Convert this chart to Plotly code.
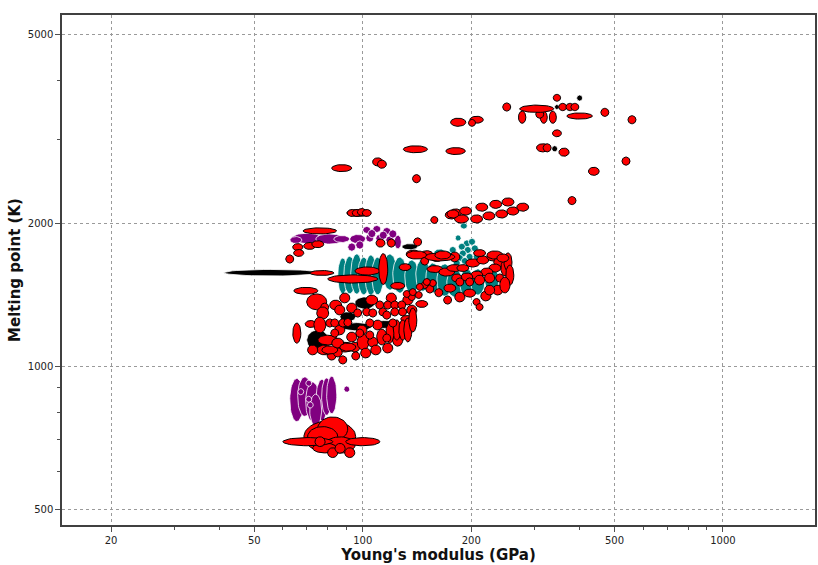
import numpy as np
import plotly.graph_objects as go

# Each material: (Young's modulus GPa, melting point K, modulus spread factor, melting-point spread factor)
teal_materials = [
    (88, 1547, 1.033, 1.091), (92, 1554, 1.039, 1.095), (96.2, 1562, 1.039, 1.102),
    (100.6, 1547, 1.039, 1.095), (105.3, 1554, 1.039, 1.102), (110, 1547, 1.039, 1.095),
    (118.9, 1577, 1.046, 1.091), (126.7, 1554, 1.046, 1.091), (136.8, 1539, 1.046, 1.086),
    (146.8, 1554, 1.046, 1.081), (156.5, 1532, 1.046, 1.075), (169, 1517, 1.052, 1.081),
    (180, 1495, 1.052, 1.070), (194.5, 1495, 1.046, 1.070), (208.6, 1503, 1.046, 1.065),
    (228, 1517, 1.046, 1.060), (171, 1713, 1.039, 1.020), (163.6, 1729, 1.039, 1.020),
    (190.8, 1972, 1.023, 1.015), (194.5, 1812, 1.023, 1.017), (201, 1826, 1.023, 1.017),
    (188.4, 1783, 1.023, 1.017), (195.7, 1755, 1.023, 1.017), (204.7, 1769, 1.023, 1.017),
    (189.6, 1726, 1.023, 1.017), (198, 1698, 1.023, 1.017), (207.3, 1698, 1.023, 1.017),
    (186, 1688, 1.023, 1.017), (192, 1664, 1.023, 1.017), (182.4, 1648, 1.023, 1.017),
    (184, 1860, 1.019, 1.015), (177.8, 1755, 1.023, 1.017),
]

purple_materials = [
    (65.6, 848, 1.046, 1.110), (69, 862, 1.046, 1.100), (72.6, 841, 1.046, 1.100),
    (77, 848, 1.039, 1.105), (79.4, 862, 1.033, 1.095), (82, 869, 1.033, 1.095),
    (74, 808, 1.039, 1.080), (90.3, 894, 1.019, 1.015), (67.3, 883, 1.019, 1.015),
    (70.8, 920, 1.019, 1.015), (70.8, 851, 1.019, 1.015), (71.5, 828, 1.019, 1.015),
    (75.5, 1851, 1.189, 1.017), (69.9, 1857, 1.101, 1.025), (81, 1851, 1.094, 1.025),
    (87.4, 1851, 1.052, 1.017), (65.2, 1842, 1.039, 1.017), (96.8, 1851, 1.052, 1.022),
    (102.6, 1934, 1.026, 1.017), (109.4, 1943, 1.026, 1.017), (116.6, 1924, 1.026, 1.017),
    (104.6, 1860, 1.026, 1.020), (111.5, 1857, 1.026, 1.020), (118.9, 1842, 1.026, 1.020),
    (125.1, 1824, 1.023, 1.034), (93.2, 1780, 1.026, 1.020), (98.1, 1798, 1.026, 1.020),
    (121.2, 1897, 1.026, 1.020), (106, 1900, 1.026, 1.020), (114, 1885, 1.026, 1.020),
]

black_materials = [
    (55.9, 1572, 1.359, 1.016), (135, 1783, 1.052, 1.015), (101.3, 1357, 1.066, 1.030),
    (90.9, 1270, 1.052, 1.024), (96.2, 1210, 1.101, 1.020), (116.6, 1223, 1.080, 1.020),
    (75, 1134, 1.073, 1.050), (346, 3510, 1.016, 1.012), (400, 3666, 1.019, 1.015),
    (341, 2867, 1.019, 1.015),
]

red_materials = [
    (346, 3670, 1.024, 1.017), (251, 3510, 1.026, 1.020), (277, 3340, 1.024, 1.030),
    (318, 3340, 1.023, 1.030), (337, 3340, 1.023, 1.030), (310, 3390, 1.026, 1.020),
    (304, 3480, 1.115, 1.018), (359, 3510, 1.026, 1.018), (376, 3510, 1.026, 1.018),
    (388, 3510, 1.026, 1.018), (400, 3360, 1.085, 1.015), (470, 3420, 1.026, 1.020),
    (559, 3300, 1.026, 1.020), (346, 3090, 1.029, 1.017), (316, 2880, 1.041, 1.020),
    (325, 2880, 1.026, 1.020), (362, 2820, 1.033, 1.020), (538, 2700, 1.026, 1.020),
    (438, 2570, 1.035, 1.020), (381, 2230, 1.026, 1.020), (184, 3260, 1.050, 1.020),
    (207, 3300, 1.044, 1.017), (201, 3250, 1.023, 1.017), (140, 2860, 1.080, 1.017),
    (181, 2835, 1.064, 1.017), (141, 2480, 1.026, 1.020), (87.4, 2610, 1.066, 1.017),
    (110, 2690, 1.033, 1.020), (113, 2660, 1.029, 1.020), (158, 2030, 1.023, 1.017),
    (97.5, 2100, 1.080, 1.017), (93.2, 2100, 1.029, 1.017), (96.2, 2100, 1.029, 1.017),
    (99.4, 2110, 1.029, 1.017), (102.6, 2100, 1.029, 1.017),
    (176, 2080, 1.039, 1.020), (181, 2100, 1.039, 1.020), (193, 2120, 1.039, 1.020),
    (188, 2040, 1.046, 1.020), (207, 2040, 1.039, 1.020), (214, 2160, 1.039, 1.020),
    (224, 2070, 1.039, 1.020), (234, 2190, 1.039, 1.020), (243, 2090, 1.039, 1.020),
    (253, 2215, 1.039, 1.020), (261, 2120, 1.039, 1.020), (278, 2160, 1.039, 1.020),
    (178, 2090, 1.039, 1.020),
    (76, 1925, 1.113, 1.015), (66, 1780, 1.033, 1.017), (66.4, 1730, 1.033, 1.017),
    (62.7, 1680, 1.026, 1.020), (71.2, 1790, 1.039, 1.017), (75, 1805, 1.039, 1.017),
    (112, 1815, 1.029, 1.020), (120, 1815, 1.026, 1.020), (138, 1720, 1.046, 1.020),
    (131, 1615, 1.039, 1.017), (142, 1825, 1.026, 1.020),
    (93.8, 1525, 1.173, 1.020), (103, 1585, 1.083, 1.020), (114, 1600, 1.029, 1.078),
    (77, 1570, 1.080, 1.012), (69.5, 1440, 1.080, 1.017), (125, 1475, 1.046, 1.017),
    (74.5, 1365, 1.066, 1.039), (78.4, 1330, 1.026, 1.020), (65.6, 1173, 1.026, 1.050),
    (71.7, 1226, 1.036, 1.017), (80, 1134, 1.066, 1.024), (89.1, 1096, 1.066, 1.024),
    (82, 1052, 1.029, 1.022), (85.2, 1068, 1.029, 1.022), (77.4, 1293, 1.039, 1.030),
    (84.1, 1344, 1.039, 1.024), (89.1, 1391, 1.033, 1.024), (93.2, 1325, 1.033, 1.024),
    (105.9, 1377, 1.039, 1.024), (120, 1391, 1.033, 1.024), (133.4, 1377, 1.033, 1.024),
    (136.8, 1312, 1.033, 1.024), (76, 1220, 1.039, 1.039), (78.4, 1081, 1.052, 1.024),
    (95, 1096, 1.033, 1.024), (99.4, 1191, 1.033, 1.024), (110, 1220, 1.033, 1.024),
    (125, 1134, 1.033, 1.030), (117.3, 1091, 1.033, 1.024), (86.3, 1191, 1.033, 1.024),
    (81, 1232, 1.026, 1.020), (83.6, 1232, 1.026, 1.020), (88, 1232, 1.026, 1.020),
    (90.9, 1235, 1.026, 1.020), (96.8, 1293, 1.026, 1.020), (102.6, 1300, 1.026, 1.020),
    (106.6, 1293, 1.026, 1.020), (111.5, 1344, 1.026, 1.020), (117.3, 1344, 1.026, 1.020),
    (122.7, 1344, 1.026, 1.020), (128.3, 1344, 1.026, 1.020), (113.7, 1300, 1.026, 1.020),
    (122.7, 1300, 1.026, 1.020), (129, 1300, 1.026, 1.020), (116.6, 1280, 1.026, 1.020),
    (132.5, 1256, 1.039, 1.017), (104.6, 1232, 1.026, 1.020), (124.3, 1191, 1.026, 1.050),
    (129.2, 1191, 1.026, 1.050), (133.4, 1191, 1.026, 1.060), (118.9, 1173, 1.026, 1.050),
    (112.9, 1151, 1.033, 1.039), (100.2, 1123, 1.039, 1.039), (106.6, 1123, 1.033, 1.024),
    (98.1, 1173, 1.026, 1.020), (104.6, 1162, 1.026, 1.020), (116.6, 1145, 1.026, 1.020),
    (81, 1081, 1.052, 1.020), (72.6, 1081, 1.033, 1.024), (85.2, 1118, 1.039, 1.024),
    (90.9, 1096, 1.052, 1.020), (95.6, 1050, 1.026, 1.020), (101.9, 1065, 1.033, 1.024),
    (108.7, 1081, 1.033, 1.024), (93.2, 1151, 1.033, 1.024), (121.2, 1232, 1.026, 1.020),
    (137.7, 1250, 1.026, 1.060), (86.3, 1312, 1.033, 1.024), (83.6, 1173, 1.026, 1.020),
    (88, 1030, 1.026, 1.020),
    (150.6, 1720, 1.039, 1.017), (160.5, 1688, 1.039, 1.017), (148.6, 1664, 1.026, 1.020),
    (158.5, 1600, 1.052, 1.017), (171, 1577, 1.052, 1.020), (180, 1608, 1.052, 1.017),
    (189.6, 1608, 1.039, 1.017), (202, 1648, 1.046, 1.020), (215.4, 1672, 1.039, 1.020),
    (229.7, 1697, 1.039, 1.020), (240, 1656, 1.039, 1.024), (248, 1608, 1.026, 1.039),
    (253, 1656, 1.026, 1.045), (237, 1445, 1.033, 1.024), (219.6, 1404, 1.033, 1.024),
    (186, 1397, 1.033, 1.024), (172, 1377, 1.026, 1.020), (180, 1697, 1.033, 1.024),
    (232.7, 1608, 1.039, 1.020), (221, 1577, 1.039, 1.020), (207.3, 1554, 1.039, 1.020),
    (194.5, 1539, 1.039, 1.020), (182.4, 1532, 1.033, 1.020), (211, 1517, 1.033, 1.024),
    (225, 1532, 1.033, 1.024), (240, 1532, 1.026, 1.020), (198, 1503, 1.026, 1.020),
    (198, 1424, 1.039, 1.020), (186, 1503, 1.026, 1.020), (162.6, 1427, 1.026, 1.020),
    (153.5, 1453, 1.026, 1.020), (148.6, 1481, 1.023, 1.017), (156.5, 1495, 1.023, 1.017),
    (143, 1411, 1.023, 1.017), (136.8, 1397, 1.023, 1.017), (132.5, 1418, 1.023, 1.017),
    (145.8, 1351, 1.039, 1.017), (207, 1364, 1.023, 1.017), (211, 1331, 1.023, 1.017),
    (137.7, 1431, 1.023, 1.017), (144, 1467, 1.023, 1.017), (150.6, 1503, 1.023, 1.017),
    (163.6, 1697, 1.101, 1.020), (141, 1713, 1.066, 1.020), (166.8, 1713, 1.052, 1.020),
    (211, 1729, 1.039, 1.017), (232.7, 1713, 1.052, 1.020), (244.8, 1688, 1.039, 1.020),
    (174.5, 1459, 1.039, 1.020), (256, 1554, 1.026, 1.050), (248, 1481, 1.033, 1.039),
    (225, 1445, 1.033, 1.024),
    (81, 710, 1.180, 1.080), (82.5, 737, 1.101, 1.060), (77.4, 710, 1.101, 1.050),
    (86.5, 682, 1.101, 1.040), (78.4, 672, 1.080, 1.024),
    (70.4, 693, 1.173, 1.020), (100, 693, 1.115, 1.020), (76.1, 693, 1.033, 1.024),
    (82.5, 657, 1.033, 1.024), (86.5, 671, 1.033, 1.024), (92, 657, 1.033, 1.024),
]

x_ticks = [20, 50, 100, 200, 500, 1000]
x_minor = [30, 40, 60, 70, 80, 90, 300, 400, 600, 700, 800, 900]
y_ticks = [500, 1000, 2000, 5000]
y_minor = [600, 700, 800, 900, 3000, 4000]

groups = [
    (teal_materials, "#008080", "white", 0.8),
    (purple_materials, "#800080", "white", 0.8),
    (black_materials, "#000000", "white", 0.8),
    (red_materials, "#ff0000", "#000000", 1.0),
]

t = np.linspace(0, 2 * np.pi, 48)
fig = go.Figure()
for mats, fill, edge, w in groups:
    for E, T, fE, fT in mats:
        lx = np.log10(E) + np.log10(fE) * np.cos(t)
        ly = np.log10(T) + np.log10(fT) * np.sin(t)
        fig.add_trace(go.Scatter(
            x=10 ** lx, y=10 ** ly, mode="lines", fill="toself",
            fillcolor=fill, line=dict(color=edge, width=w),
            hoverinfo="skip", showlegend=False))

font = "DejaVu Sans, Verdana, sans-serif"
axis_common = dict(
    type="log", showgrid=True, gridcolor="#9a9a9a", griddash="3px,3px", gridwidth=1,
    ticks="outside", ticklen=5, tickcolor="#505050", tickwidth=1,
    showline=True, mirror=True, linecolor="#404040", linewidth=1.5,
    zeroline=False, tickfont=dict(family=font, size=10, color="#222222"),
    automargin=False,
)
fig.update_layout(
    width=818, height=565,
    margin=dict(l=62, r=3, t=15, b=40),
    paper_bgcolor="white", plot_bgcolor="white",
    font=dict(family=font),
    xaxis=dict(axis_common, range=[1.165, 3.2555], tickvals=x_ticks,
               ticktext=[str(v) for v in x_ticks],
               minor=dict(tickvals=x_minor, ticks="outside", ticklen=3,
                          tickcolor="#505050", showgrid=False),
               title=dict(text="<b>Young's modulus (GPa)</b>",
                          font=dict(family=font, size=15, color="#111111"), standoff=4)),
    yaxis=dict(axis_common, range=[2.6653, 3.739], tickvals=y_ticks,
               ticktext=[str(v) for v in y_ticks],
               minor=dict(tickvals=y_minor, ticks="outside", ticklen=3,
                          tickcolor="#505050", showgrid=False),
               title=dict(text="<b>Melting point (K)</b>",
                          font=dict(family=font, size=15, color="#111111"), standoff=4)),
)
fig.write_html("out.html")
